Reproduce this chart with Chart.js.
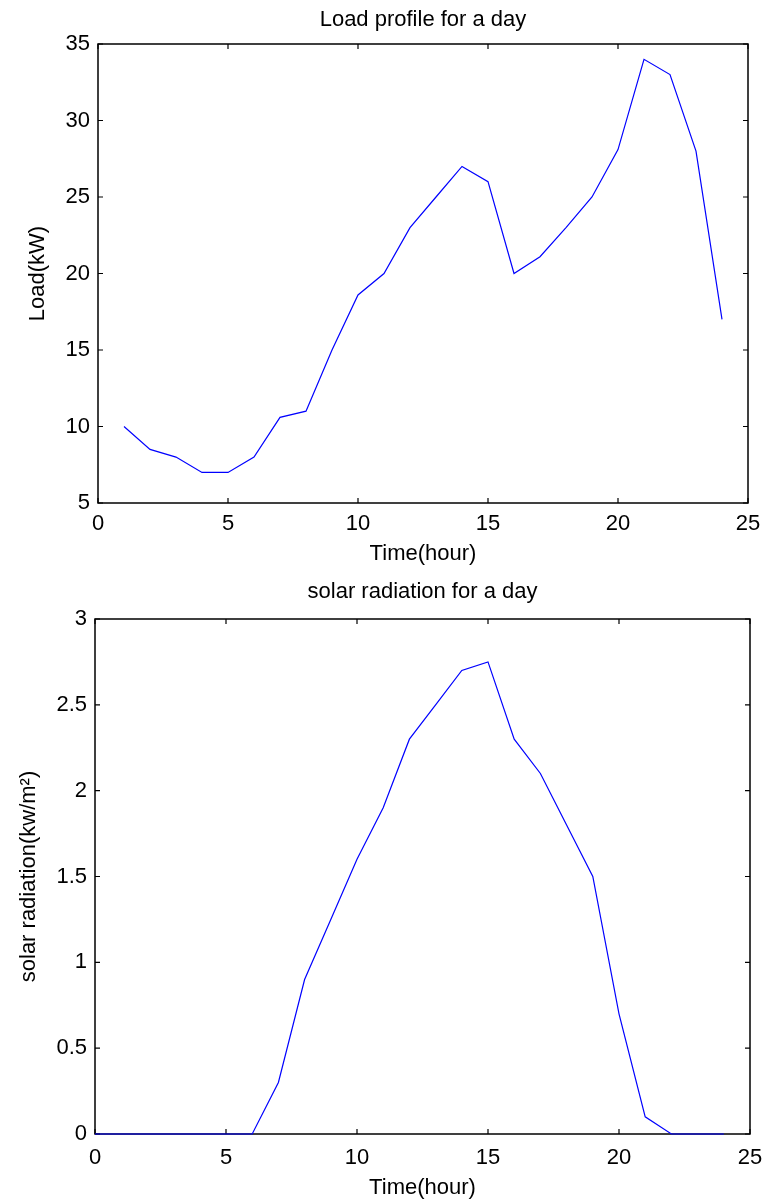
<!DOCTYPE html>
<html lang="en">
<head>
  <meta charset="UTF-8" />
  <title>Load profile and solar radiation for a day</title>
  <style>
    html, body { margin: 0; padding: 0; background: #fff; }
    body { width: 762px; height: 1203px; position: relative; overflow: hidden; }
    canvas { position: absolute; left: 0; }
    #loadChart { top: 0; }
    #solarChart { top: 572px; }
  </style>
  <script src="https://cdn.jsdelivr.net/npm/chart.js"></script>
</head>
<body>
  <canvas id="loadChart" width="762" height="572"></canvas>
  <canvas id="solarChart" width="762" height="631"></canvas>

  <script>
    // data
    const hourTicks = [0, 5, 10, 15, 20, 25];

    const loadHours = [1, 2, 3, 4, 5, 6, 7, 8, 9, 10, 11, 12, 13, 14, 15, 16, 17, 18, 19, 20, 21, 22, 23, 24];
    const loadValues = [10, 8.5, 8, 7, 7, 8, 10.6, 11, 15, 18.6, 20, 23, 25, 27, 26, 20, 21.1, 23, 25, 28.1, 34, 33, 28, 17];
    const loadTicks = [5, 10, 15, 20, 25, 30, 35];

    const solarHours = [0, 1, 2, 3, 4, 5, 6, 7, 8, 9, 10, 11, 12, 13, 14, 15, 16, 17, 18, 19, 20, 21, 22, 23, 24];
    const solarValues = [0, 0, 0, 0, 0, 0, 0, 0.3, 0.9, 1.25, 1.6, 1.9, 2.3, 2.5, 2.7, 2.75, 2.3, 2.1, 1.8, 1.5, 0.7, 0.1, 0, 0, 0];
    const solarTicks = [0, 0.5, 1, 1.5, 2, 2.5, 3];

    const FONT = { family: "'Liberation Sans', Arial, sans-serif", size: 22 };

    // matlab style box with inward ticks, drawn under the line
    const matlabFrame = {
      id: "matlabFrame",
      afterLayout(chart) {
        // center the title over the plot box, not the whole canvas
        if (chart.titleBlock) {
          chart.titleBlock.left = chart.chartArea.left;
          chart.titleBlock.right = chart.chartArea.right;
        }
      },
      beforeDatasetsDraw(chart) {
        const { ctx, chartArea: a, scales } = chart;
        const x = scales.x, y = scales.y;
        ctx.save();
        ctx.strokeStyle = "#000";
        ctx.lineWidth = 1.5;
        ctx.strokeRect(a.left, a.top, a.right - a.left, a.bottom - a.top);
        ctx.lineWidth = 1.2;
        ctx.beginPath();
        x.ticks.forEach((t) => {
          const px = x.getPixelForValue(t.value);
          ctx.moveTo(px, a.bottom); ctx.lineTo(px, a.bottom - 5);
          ctx.moveTo(px, a.top); ctx.lineTo(px, a.top + 5);
        });
        y.ticks.forEach((t) => {
          const py = y.getPixelForValue(t.value);
          ctx.moveTo(a.left, py); ctx.lineTo(a.left + 5, py);
          ctx.moveTo(a.right, py); ctx.lineTo(a.right - 5, py);
        });
        ctx.stroke();
        ctx.restore();
      },
    };

    function drawProfile(id, o) {
      const points = o.xs.map((h, i) => ({ x: h, y: o.ys[i] }));
      return new Chart(document.getElementById(id), {
        type: "line",
        data: {
          datasets: [{
            data: points,
            borderColor: "#0000ff",
            borderWidth: 1.2,
            pointRadius: 0,
            tension: 0,
            fill: false,
            clip: false,
          }],
        },
        options: {
          responsive: false,
          animation: false,
          devicePixelRatio: 1,
          layout: { padding: { left: 0, right: o.right, top: 0, bottom: 0 } },
          plugins: {
            legend: { display: false },
            tooltip: { enabled: false },
            title: {
              display: true,
              text: o.title,
              color: "#000",
              font: { ...FONT, weight: "normal" },
              padding: { top: 6.8, bottom: o.titleGap },
            },
          },
          scales: {
            x: {
              type: "linear",
              min: 0,
              max: 25,
              grid: { display: false, drawTicks: false },
              border: { display: false },
              afterBuildTicks: (s) => { s.ticks = hourTicks.map((v) => ({ value: v })); },
              afterFit: (s) => { s.height = 69; s.paddingLeft = 0; s.paddingRight = 0; },
              ticks: { color: "#000", font: FONT, padding: o.xTickPad, maxRotation: 0, autoSkip: false, callback: (v) => String(v) },
              title: { display: true, text: "Time(hour)", color: "#000", font: FONT, padding: { top: 0, bottom: o.xTitlePad } },
            },
            y: {
              type: "linear",
              min: o.yTicks[0],
              max: o.yTicks[o.yTicks.length - 1],
              grid: { display: false, drawTicks: false },
              border: { display: false },
              afterBuildTicks: (s) => { s.ticks = o.yTicks.map((v) => ({ value: v })); },
              afterFit: (s) => { s.width = o.yWidth; s.paddingTop = 0; s.paddingBottom = 0; },
              ticks: { color: "#000", font: FONT, padding: 8, callback: (v) => String(v) },
              title: { display: true, text: o.yLabel, color: "#000", font: FONT, padding: { top: o.yTitlePad, bottom: 0 } },
            },
          },
        },
        plugins: [matlabFrame],
      });
    }

    drawProfile("loadChart", {
      xs: loadHours, ys: loadValues, yTicks: loadTicks,
      title: "Load profile for a day", yLabel: "Load(kW)",
      right: 14, titleGap: 10.8, yWidth: 98, yTitlePad: 24.8, xTickPad: 8, xTitlePad: 5,
    });

    drawProfile("solarChart", {
      xs: solarHours, ys: solarValues, yTicks: solarTicks,
      title: "solar radiation for a day", yLabel: "solar radiation(kw/m²)",
      right: 12, titleGap: 13.8, yWidth: 95, yTitlePad: 15.8, xTickPad: 11, xTitlePad: 2,
    });
  </script>
</body>
</html>
